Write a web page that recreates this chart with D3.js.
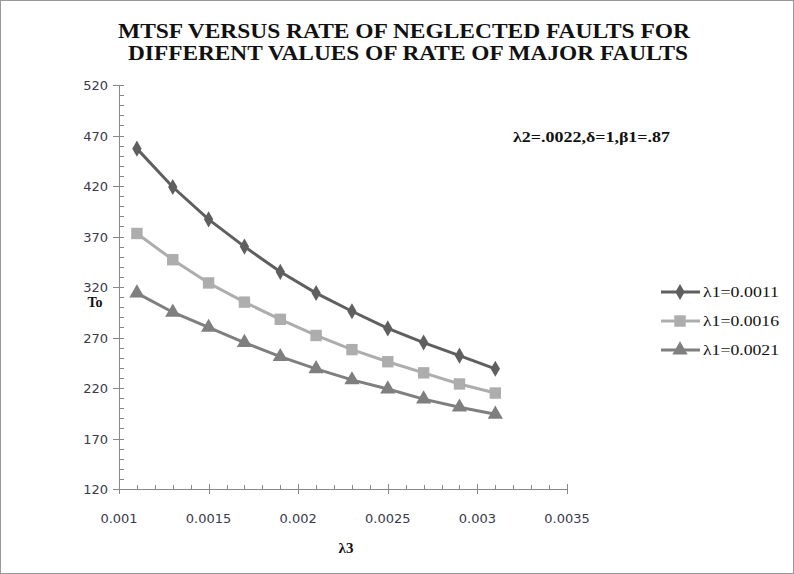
<!DOCTYPE html>
<html><head><meta charset="utf-8">
<script src="https://cdn.jsdelivr.net/npm/d3@7"></script>
<style>body{margin:0;background:#fff}svg{display:block}</style>
</head><body>
<svg id="c" width="794" height="574"></svg>
<script>
const xValues = [0.0011,0.0013,0.0015,0.0017,0.0019,0.0021,0.0023,0.0025,0.0027,0.0029,0.0031];
const seriesA = [457,419,387,360,335,314,296,279,265,252,239];
const seriesB = [373,347,324,305,288,272,258,246,235,224,215];
const seriesC = [314,295,280,265,251,239,228,219,209,201,194];
const seriesNames = ["λ1=0.0011","λ1=0.0016","λ1=0.0021"];
const xTicks = [0.001,0.0015,0.002,0.0025,0.003,0.0035];
const yTicks = [120,170,220,270,320,370,420,470,520];
const titleLines = ["MTSF VERSUS RATE OF NEGLECTED FAULTS FOR","DIFFERENT VALUES OF RATE OF MAJOR FAULTS"];
const annotation = "λ2=.0022,δ=1,β1=.87";

const svg = d3.select("#c");
const W=794,H=574;
svg.append("rect").attr("x",0.5).attr("y",0.5).attr("width",W-1).attr("height",H-1).attr("fill","#fff").attr("stroke","#999");

const x = d3.scaleLinear().domain([0.001,0.0035]).range([119,567]);
const y = d3.scaleLinear().domain([120,520]).range([489,85]);
const axisColor="#888";
const serif="'Liberation Serif','Times New Roman',serif";
const sans="'DejaVu Sans',Verdana,sans-serif";

// title
const titleWidths=[572,560];
svg.append("g").selectAll("text").data(titleLines).join("text")
  .attr("x",(d,i)=>i?408:404).attr("y",(d,i)=>38+i*22).attr("text-anchor","middle")
  .attr("font-family",serif).attr("font-weight","bold")
  .attr("font-size",20).attr("fill","#111")
  .attr("textLength",(d,i)=>titleWidths[i]).attr("lengthAdjust","spacingAndGlyphs").text(d=>d);

// y axis
const yAxis = svg.append("g");
yAxis.append("line").attr("x1",x(0.001)+0.5).attr("x2",x(0.001)+0.5).attr("y1",y(120)).attr("y2",y(520)).attr("stroke",axisColor);
const yMinor = d3.range(120,521,10).filter(v=>(v-120)%50!==0);
yAxis.selectAll(".ym").data(yMinor).join("line").attr("x1",x(0.001)).attr("x2",x(0.001)+5)
  .attr("y1",d=>Math.round(y(d))+0.5).attr("y2",d=>Math.round(y(d))+0.5).attr("stroke",axisColor);
yAxis.selectAll(".yM").data(yTicks).join("line").attr("x1",x(0.001)-6).attr("x2",x(0.001)+5)
  .attr("y1",d=>Math.round(y(d))+0.5).attr("y2",d=>Math.round(y(d))+0.5).attr("stroke",axisColor);
yAxis.selectAll("text").data(yTicks).join("text").attr("x",108).attr("y",d=>y(d)+5)
  .attr("text-anchor","end").attr("font-family",sans).attr("font-size",13)
  .attr("fill","#3a3a4a").text(d=>d);

// x axis
const xAxis = svg.append("g");
xAxis.append("line").attr("x1",x(0.001)).attr("x2",x(0.0035)).attr("y1",Math.round(y(120))+0.5).attr("y2",Math.round(y(120))+0.5).attr("stroke",axisColor);
const xMinor = d3.range(0,26).map(i=>0.001+i*0.0001).filter((v,i)=>i%5!==0);
xAxis.selectAll(".xm").data(xMinor).join("line").attr("x1",d=>Math.round(x(d))+0.5).attr("x2",d=>Math.round(x(d))+0.5)
  .attr("y1",y(120)).attr("y2",y(120)-4).attr("stroke",axisColor);
xAxis.selectAll(".xM").data(xTicks).join("line").attr("x1",d=>Math.round(x(d))+0.5).attr("x2",d=>Math.round(x(d))+0.5)
  .attr("y1",y(120)-5).attr("y2",y(120)+5).attr("stroke",axisColor);
xAxis.selectAll("text").data(xTicks).join("text").attr("x",d=>x(d)).attr("y",y(120)+34)
  .attr("text-anchor","middle").attr("font-family",sans).attr("font-size",13)
  .attr("fill","#3a3a4a").text(d=>String(d));

// axis titles
svg.append("text").attr("x",346).attr("y",553).attr("text-anchor","middle")
  .attr("font-family",serif).attr("font-weight","bold").attr("font-size",15)
  .attr("fill","#111").text("λ3");
svg.append("text").attr("x",95).attr("y",307).attr("text-anchor","middle")
  .attr("font-family",serif).attr("font-weight","bold").attr("font-size",14)
  .attr("fill","#111").text("To");

// annotation
svg.append("text").attr("x",513).attr("y",142)
  .attr("font-family",serif).attr("font-weight","bold").attr("font-size",14)
  .attr("textLength",157).attr("lengthAdjust","spacingAndGlyphs")
  .attr("fill","#111").text(annotation);

const series = [
  {name:seriesNames[0], values:seriesA, color:"#5f5f5f", shape:d3.symbolDiamond, size:75},
  {name:seriesNames[1], values:seriesB, color:"#adadad", shape:d3.symbolSquare, size:130},
  {name:seriesNames[2], values:seriesC, color:"#7f7f7f", shape:d3.symbolTriangle, size:100}
];
const line = d3.line().x((d,i)=>x(xValues[i])).y(d=>y(d));
series.forEach(s=>{
  svg.append("path").datum(s.values).attr("d",line).attr("fill","none").attr("stroke",s.color).attr("stroke-width",3);
  svg.append("g").selectAll("path").data(s.values).join("path")
    .attr("transform",(d,i)=>`translate(${x(xValues[i])},${y(d)})`)
    .attr("d",d3.symbol().type(s.shape).size(s.size)).attr("fill",s.color);
});

// legend
const lg = svg.append("g");
series.forEach((s,i)=>{
  const ly = 292+i*29;
  lg.append("line").attr("x1",661).attr("x2",700).attr("y1",ly).attr("y2",ly).attr("stroke",s.color).attr("stroke-width",3);
  lg.append("path").attr("transform",`translate(680,${ly})`).attr("d",d3.symbol().type(s.shape).size(s.size)).attr("fill",s.color);
  lg.append("text").attr("x",703).attr("y",ly+5).attr("font-family",serif)
    .attr("font-size",15).attr("textLength",76).attr("lengthAdjust","spacingAndGlyphs")
    .attr("fill","#111").text(s.name);
});
</script>
</body></html>
